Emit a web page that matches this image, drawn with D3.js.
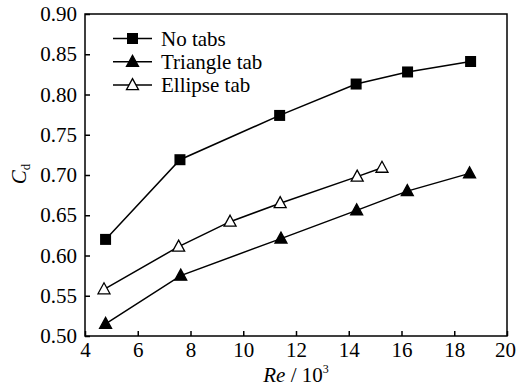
<!DOCTYPE html>
<html>
<head>
<meta charset="utf-8">
<script src="https://cdn.jsdelivr.net/npm/d3@7"></script>
<style>
  body { margin: 0; background: #fff; }
  svg { display: block; }
</style>
</head>
<body>
<svg id="chart" width="516" height="390"></svg>
<script>
const xTicks = [4, 6, 8, 10, 12, 14, 16, 18, 20]
const yTicks = [0.5, 0.55, 0.6, 0.65, 0.7, 0.75, 0.8, 0.85, 0.9]

const noTabsRe = [4.78, 7.6, 11.38, 14.28, 16.23, 18.62]
const noTabsCd = [0.62, 0.719, 0.774, 0.813, 0.828, 0.841]

const triangleRe = [4.78, 7.63, 11.43, 14.3, 16.22, 18.58]
const triangleCd = [0.515, 0.575, 0.621, 0.656, 0.68, 0.702]

const ellipseRe = [4.72, 7.55, 9.5, 11.4, 14.32, 15.26]
const ellipseCd = [0.558, 0.611, 0.642, 0.665, 0.698, 0.709]

const seriesNames = ['No tabs', 'Triangle tab', 'Ellipse tab']

const svg = d3.select('#chart')
const font = '"Liberation Serif", "Times New Roman", serif'

const margin = { top: 14, right: 9, bottom: 54, left: 85 }
const width = 516 - margin.left - margin.right
const height = 390 - margin.top - margin.bottom

const x = d3.scaleLinear().domain([4, 20]).range([0, width])
const y = d3.scaleLinear().domain([0.5, 0.9]).range([height, 0])

const g = svg.append('g').attr('transform', `translate(${margin.left},${margin.top})`)

const series = [
  { name: seriesNames[0], re: noTabsRe, cd: noTabsCd, shape: 'square', fill: '#000' },
  { name: seriesNames[1], re: triangleRe, cd: triangleCd, shape: 'triangle', fill: '#000' },
  { name: seriesNames[2], re: ellipseRe, cd: ellipseCd, shape: 'triangle', fill: '#fff' },
]

// axes, ticks pointing inward
const xAxis = g.append('g')
  .attr('transform', `translate(0,${height})`)
  .call(d3.axisBottom(x).tickValues(xTicks).tickSizeInner(-5).tickSizeOuter(0).tickPadding(6).tickFormat(d3.format('d')))
const yAxis = g.append('g')
  .call(d3.axisLeft(y).tickValues(yTicks).tickSizeInner(-5).tickSizeOuter(0).tickPadding(8).tickFormat(d3.format('.2f')))

;[xAxis, yAxis].forEach(a => {
  a.attr('font-family', font).attr('font-size', 21)
  a.select('.domain').remove()
  a.selectAll('line').attr('stroke', '#000').attr('stroke-width', 1.5)
  a.selectAll('text').attr('fill', '#000')
})

// last x label sits at the page edge, pull it in a little
xAxis.selectAll('.tick').filter(d => d === 20).select('text').attr('dx', -2)

g.append('rect')
  .attr('width', width)
  .attr('height', height)
  .attr('fill', 'none')
  .attr('stroke', '#000')
  .attr('stroke-width', 1.5)

const line = d3.line().x(d => x(d[0])).y(d => y(d[1]))

const drawMarker = (sel, shape, fill) => {
  if (shape === 'square') {
    sel.append('rect')
      .attr('x', -5.5).attr('y', -5.5).attr('width', 11).attr('height', 11)
      .attr('fill', fill)
  } else {
    sel.append('path')
      .attr('d', 'M0,-6.5L6,4.5L-6,4.5Z')
      .attr('fill', fill)
      .attr('stroke', '#000')
      .attr('stroke-width', 1.3)
  }
}

series.forEach(s => {
  const pts = s.re.map((r, i) => [r, s.cd[i]])
  g.append('path')
    .datum(pts)
    .attr('d', line)
    .attr('fill', 'none')
    .attr('stroke', '#000')
    .attr('stroke-width', 1.5)
  g.selectAll(null)
    .data(pts)
    .enter()
    .append('g')
    .attr('transform', d => `translate(${x(d[0])},${y(d[1])})`)
    .each(function () { drawMarker(d3.select(this), s.shape, s.fill) })
})

// legend
const legend = svg.append('g').attr('transform', 'translate(113, 38.5)')
series.forEach((s, i) => {
  const row = legend.append('g').attr('transform', `translate(0, ${i * 23.3})`)
  row.append('line').attr('x1', 0).attr('x2', 39).attr('stroke', '#000').attr('stroke-width', 1.5)
  const m = row.append('g').attr('transform', 'translate(19.5, 0)')
  drawMarker(m, s.shape, s.fill)
  row.append('text')
    .attr('x', 48)
    .attr('y', 7)
    .attr('font-family', font)
    .attr('font-size', 21)
    .text(s.name)
})

// axis titles
const xt = svg.append('text')
  .attr('x', 296)
  .attr('y', 382)
  .attr('text-anchor', 'middle')
  .attr('font-family', font)
  .attr('font-size', 21)
xt.append('tspan').attr('font-style', 'italic').text('Re')
xt.append('tspan').text(' / 10')
xt.append('tspan').attr('font-size', 12).attr('dy', -9).text('3')

const yt = svg.append('text')
  .attr('transform', 'translate(26, 174) rotate(-90)')
  .attr('text-anchor', 'middle')
  .attr('font-family', font)
  .attr('font-size', 21)
yt.append('tspan').attr('font-style', 'italic').text('C')
yt.append('tspan').attr('font-size', 13).attr('dy', 4).text('d')
</script>
</body>
</html>
